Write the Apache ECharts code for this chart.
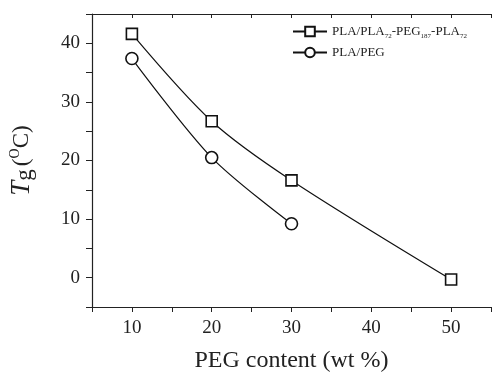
<!DOCTYPE html>
<html><head><meta charset="utf-8">
<script src="https://cdn.jsdelivr.net/npm/echarts@6/dist/echarts.min.js"></script>
<style>html,body{margin:0;padding:0;background:#fff}#c{width:494px;height:378px}</style>
</head><body><div id="c"></div>
<script>
const xValues = [10, 20, 30, 50];
const seriesNames = ['PLA/PLA72-PEG187-PLA72', 'PLA/PEG'];
const triblockTg = [41.6, 26.7, 16.6, -0.3];
const blendX = [10, 20, 30];
const blendTg = [37.4, 20.5, 9.2];
const xTicks = [10, 20, 30, 40, 50];
const yTicks = [0, 10, 20, 30, 40];

const font = 'Liberation Serif';
const chart = echarts.init(document.getElementById('c'));
const axisLine = {onZero: false, lineStyle: {color: '#222', width: 1.2}};
chart.setOption({
  animation: false,
  grid: {left: 90, top: 14, width: 407, height: 300},
  legend: {
    left: 287, top: 20, orient: 'vertical', itemGap: 6, itemWidth: 34, itemHeight: 12,
    data: seriesNames,
    formatter: function (n) {
      if (n === seriesNames[0]) return '{a|PLA/PLA}{s|72}{a|-PEG}{s|187}{a|-PLA}{s|72}';
      return '{a|PLA/PEG}';
    },
    textStyle: {
      fontFamily: font, color: '#222',
      rich: {
        a: {fontFamily: font, fontSize: 13, color: '#222', height: 16},
        s: {fontFamily: font, fontSize: 7, color: '#222', padding: [10, 0, 0, 0]}
      }
    }
  },
  xAxis: [{
    type: 'value', min: 5, max: 55, interval: 5,
    name: 'PEG content (wt %)', nameLocation: 'middle', nameGap: 42,
    nameTextStyle: {fontFamily: font, fontSize: 24, color: '#222'},
    axisLine: axisLine,
    axisTick: {show: true, inside: false, length: 5, lineStyle: {color: '#222'}},
    axisLabel: {fontFamily: font, fontSize: 19, color: '#222', margin: 12,
      formatter: v => xTicks.includes(v) ? String(v) : ''},
    splitLine: {show: false}
  }, {
    type: 'value', position: 'top', min: 5, max: 55, interval: 5,
    axisLine: axisLine,
    axisTick: {show: true, inside: true, length: 4, lineStyle: {color: '#222'}},
    axisLabel: {show: false}, splitLine: {show: false}
  }],
  yAxis: [{
    type: 'value', min: -5, max: 45, interval: 5,
    name: '{i|T}{g|g} {a|(}{o|O}{a|C)}', nameLocation: 'middle', nameGap: 56, nameRotate: 90,
    nameTextStyle: {
      fontFamily: font, color: '#222',
      rich: {
        i: {fontFamily: font, fontStyle: 'italic', fontSize: 27, color: '#222'},
        g: {fontFamily: font, fontSize: 23, color: '#222', padding: [6, 0, 0, 0]},
        a: {fontFamily: font, fontSize: 23, color: '#222'},
        o: {fontFamily: font, fontSize: 14, color: '#222', padding: [0, 0, 12, 0]}
      }
    },
    axisLine: axisLine,
    axisTick: {show: true, inside: false, length: 6, lineStyle: {color: '#222'}},
    axisLabel: {fontFamily: font, fontSize: 19, color: '#222', margin: 12,
      formatter: v => yTicks.includes(v) ? String(v) : ''},
    splitLine: {show: false}
  }],
  series: [{
    name: seriesNames[0], type: 'line', smooth: 0.3,
    data: xValues.map((x, i) => [x, triblockTg[i]]),
    symbol: 'rect', symbolSize: 11,
    lineStyle: {color: '#111', width: 1.2},
    itemStyle: {color: '#fff', borderColor: '#111', borderWidth: 1.6}
  }, {
    name: seriesNames[1], type: 'line', smooth: 0.3,
    data: blendX.map((x, i) => [x, blendTg[i]]),
    symbol: 'circle', symbolSize: 12,
    lineStyle: {color: '#111', width: 1.2},
    itemStyle: {color: '#fff', borderColor: '#111', borderWidth: 1.6}
  }]
});
</script></body></html>
